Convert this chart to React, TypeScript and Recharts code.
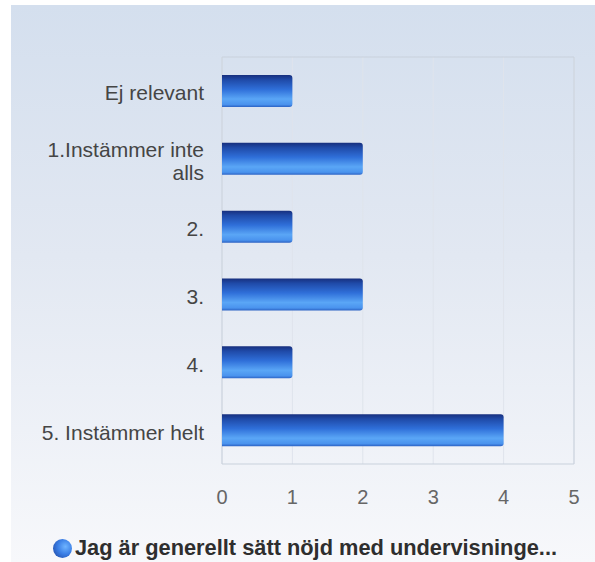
import React from 'react';
import { BarChart, Bar, XAxis, YAxis, CartesianGrid, Legend, ReferenceArea } from 'recharts';

const categories = ['Ej relevant', '1.Instämmer inte alls', '2.', '3.', '4.', '5. Instämmer helt'];
const counts = [1, 2, 1, 2, 1, 4];
const xTicks = [0, 1, 2, 3, 4, 5];
const seriesName = 'Jag är generellt sätt nöjd med undervisninge...';

const data = categories.map((c, i) => ({ category: c, value: counts[i] }));

const FONT = '"Liberation Sans", Arial, Helvetica, sans-serif';
const LABEL_SIZE = 21;
const LABEL_MAX_WIDTH = 182;

let measureCtx: CanvasRenderingContext2D | null = null;
const measure = (s: string) => {
  if (!measureCtx) {
    const c = document.createElement('canvas');
    measureCtx = c.getContext('2d');
  }
  if (!measureCtx) return s.length * LABEL_SIZE * 0.5;
  measureCtx.font = `${LABEL_SIZE}px ${FONT}`;
  return measureCtx.measureText(s).width;
};

const wrap = (s: string) => {
  const words = s.split(' ');
  const lines: string[] = [];
  let cur = '';
  words.forEach((w) => {
    const next = cur ? cur + ' ' + w : w;
    if (cur && measure(next) > LABEL_MAX_WIDTH) {
      lines.push(cur);
      cur = w;
    } else {
      cur = next;
    }
  });
  if (cur) lines.push(cur);
  return lines;
};

const CategoryTick = (props: any) => {
  const { x, y, payload } = props;
  const lines = wrap(String(payload.value));
  const lh = 23;
  const firstDy = -((lines.length - 1) / 2) * lh;
  return (
    <text
      x={x}
      y={y}
      textAnchor="end"
      fill="#454545"
      fontSize={LABEL_SIZE}
      fontFamily={FONT}
    >
      {lines.map((l, i) => (
        <tspan key={i} x={x} dy={i === 0 ? firstDy + 9.5 : lh}>
          {l}
        </tspan>
      ))}
    </text>
  );
};

const LegendContent = () => (
  <div
    style={{
      display: 'flex',
      alignItems: 'center',
      justifyContent: 'center',
      height: 28,
      paddingLeft: 25,
      boxSizing: 'border-box',
      fontFamily: FONT,
    }}
  >
    <span
      style={{
        display: 'inline-block',
        width: 19,
        height: 19,
        borderRadius: '50%',
        background: 'radial-gradient(circle at 65% 40%, #6fb4ff 0%, #3b7fe6 45%, #1c3f98 100%)',
        marginRight: 3,
        flexShrink: 0,
      }}
    />
    <span style={{ fontSize: 21.8, fontWeight: 'bold', color: '#2e2e2e', whiteSpace: 'nowrap' }}>{seriesName}</span>
  </div>
);

export default function App() {
  return (
    <div style={{ position: 'absolute', left: 0, top: 0, width: 595, height: 562, background: '#fff' }}>
      <div
        style={{
          position: 'absolute',
          left: 11,
          top: 5,
          right: 0,
          bottom: 0,
          background: 'linear-gradient(to bottom, #d4dfee 0%, #e2e8f2 45%, #f7f8fb 100%)',
        }}
      />
      <div style={{ position: 'absolute', left: 0, top: 0 }}>
        <BarChart
          width={595}
          height={562}
          data={data}
          layout="vertical"
          margin={{ top: 57, right: 21, bottom: 0, left: 11 }}
          barCategoryGap={0}
        >
          <defs>
            <linearGradient id="barGrad" x1="0" y1="0" x2="0" y2="1">
              <stop offset="0%" stopColor="#172f7e" />
              <stop offset="15%" stopColor="#1f4aa8" />
              <stop offset="45%" stopColor="#2f6fd9" />
              <stop offset="75%" stopColor="#5aa6f6" />
              <stop offset="92%" stopColor="#4a93ee" />
              <stop offset="100%" stopColor="#2b62c4" />
            </linearGradient>
          </defs>
          <CartesianGrid horizontal={false} stroke="#dfe4ec" />
          <ReferenceArea x1={0} x2={5} fill="none" stroke="#c9d1dc" strokeWidth={1} ifOverflow="visible" />
          <XAxis
            type="number"
            domain={[0, 5]}
            ticks={xTicks}
            axisLine={false}
            tickLine={false}
            tickSize={0}
            tickMargin={26}
            height={70}
            tick={{ fill: '#666', fontSize: 20, fontFamily: FONT }}
            interval={0}
          />
          <YAxis
            type="category"
            dataKey="category"
            width={211}
            axisLine={false}
            tickLine={false}
            tickSize={0}
            tickMargin={18}
            interval={0}
            tick={<CategoryTick />}
          />
          <Legend verticalAlign="bottom" height={28} content={<LegendContent />} />
          <Bar
            dataKey="value"
            name={seriesName}
            fill="url(#barGrad)"
            barSize={32}
            radius={[0, 3, 3, 0]}
            isAnimationActive={false}
          />
        </BarChart>
      </div>
    </div>
  );
}
